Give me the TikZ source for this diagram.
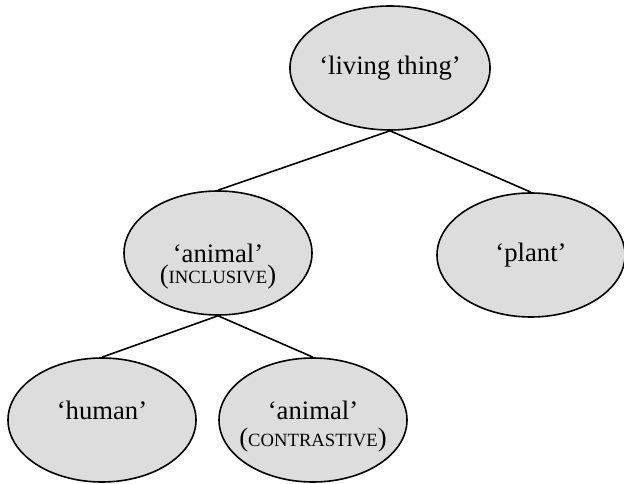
\documentclass[tikz,border=0pt]{standalone}
\usepackage{fontspec}
\setmainfont{Liberation Serif}
\usetikzlibrary{shapes.geometric}
\definecolor{senseFill}{RGB}{221,221,221}
\newcommand{\capsText}[1]{{\fontsize{14}{16}\selectfont #1}} % small capitals of the labels
\tikzset{
	sense/.style={draw, ellipse, fill=senseFill, line width=1.2pt, inner sep=0pt, minimum width=141pt, minimum height=93pt, font=\fontsize{20}{24}\selectfont},
	low/.style={text depth=15pt},
	sub/.style={font=\fontsize{20}{24}\selectfont}
}

\begin{document}
\begin{tikzpicture}[x=.75pt, y=-.75pt]
	\useasboundingbox (0,0) rectangle (624,484);
		% nodes = senses
		\node[sense] (s1) at (390,68) {`living thing'};
		\node[sense, label={[sub, yshift=-18pt]center:(\capsText{INCLUSIVE})}] (s2) at (218,253) {`animal'};
		\node[sense] (s3) at (531,255) {`plant'};
		\node[sense, low] (s4) at (102,420) {`human'};
		\node[sense, low, label={[sub, yshift=-15pt]center:(\capsText{CONTRASTIVE})}] (s5) at (313,420) {`animal'};
		% edges = hyponymy
		\draw[-, line width=1.2pt] (s1.south) -- (s2.north);
		\draw[-, line width=1.2pt] (s1.south) -- (s3.north);
		\draw[-, line width=1.2pt] (s2.south) -- (s4.north);
		\draw[-, line width=1.2pt] (s2.south) -- (s5.north);
\end{tikzpicture}
\end{document}
